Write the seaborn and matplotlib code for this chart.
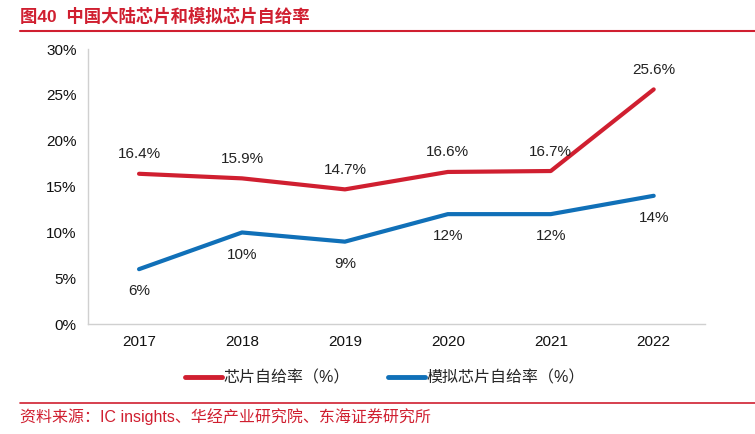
import pandas as pd
import matplotlib.pyplot as plt
import seaborn as sns
from matplotlib.lines import Line2D

# Data
years = ["2017", "2018", "2019", "2020", "2021", "2022"]
chip_rate = [16.4, 15.9, 14.7, 16.6, 16.7, 25.6]
analog_rate = [6, 10, 9, 12, 12, 14]
chip_labels = ["16.4%", "15.9%", "14.7%", "16.6%", "16.7%", "25.6%"]
analog_labels = ["6%", "10%", "9%", "12%", "12%", "14%"]

RED = "#D01F30"
BLUE = "#1070B8"

sns.set_style("white")
plt.rcParams["font.family"] = ["Liberation Sans", "Noto Sans CJK SC", "DejaVu Sans"]

df = pd.DataFrame({"year": years, "chip": chip_rate, "analog": analog_rate})

fig = plt.figure(figsize=(7.55, 4.34), dpi=100)
ax = fig.add_axes([0.116, 0.253, 0.818, 0.634])

sns.lineplot(data=df, x="year", y="chip", ax=ax, color=RED, linewidth=3, sort=False)
sns.lineplot(data=df, x="year", y="analog", ax=ax, color=BLUE, linewidth=3, sort=False)

for i, (v, t) in enumerate(zip(chip_rate, chip_labels)):
    ax.annotate(t, (i, v), xytext=(0, 9), textcoords="offset points",
                ha="center", va="bottom", fontsize=11, color="#222222")
for i, (v, t) in enumerate(zip(analog_rate, analog_labels)):
    ax.annotate(t, (i, v), xytext=(0, -11), textcoords="offset points",
                ha="center", va="top", fontsize=11, color="#222222")

ax.set_xlim(-0.5, len(years) - 0.5)
ax.set_ylim(0, 30)
ax.set_yticks(range(0, 31, 5))
ax.set_yticklabels([f"{v}%" for v in range(0, 31, 5)])
ax.tick_params(axis="both", labelsize=11, colors="#111111", length=0, pad=8)
ax.set_xlabel("")
ax.set_ylabel("")
for s in ["top", "right"]:
    ax.spines[s].set_visible(False)
for s in ["left", "bottom"]:
    ax.spines[s].set_color("#D0D0D0")
    ax.spines[s].set_linewidth(1)

# Legend
handles = [Line2D([0], [0], color=RED, lw=3.5),
           Line2D([0], [0], color=BLUE, lw=3.5)]
fig.legend(handles, ["芯片自给率（%）", "模拟芯片自给率（%）"],
           loc="center", bbox_to_anchor=(0.51, 0.13), ncol=2, frameon=False,
           fontsize=11.5, handlelength=2.3, handletextpad=0.1, columnspacing=2.4)

# Title and footer
fig.text(0.027, 0.963, "图40  中国大陆芯片和模拟芯片自给率", color=RED,
         fontsize=12.5, fontweight="bold", va="center", ha="left")
fig.add_artist(Line2D([0.027, 1.0], [0.928, 0.928], color=RED, lw=1.5))
fig.add_artist(Line2D([0.027, 1.0], [0.072, 0.072], color=RED, lw=1.2))
fig.text(0.027, 0.04, "资料来源：IC insights、华经产业研究院、东海证券研究所",
         color=RED, fontsize=11.5, va="center", ha="left")

plt.savefig("out.png", dpi=100)
